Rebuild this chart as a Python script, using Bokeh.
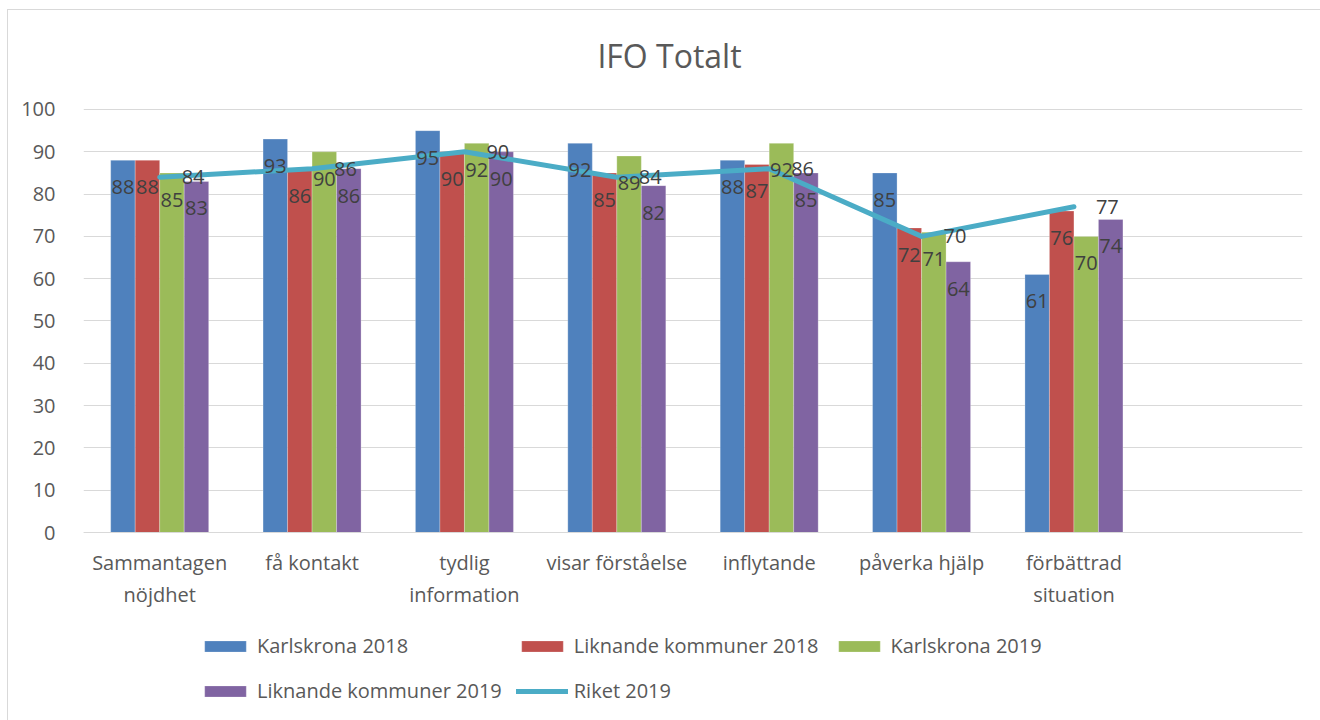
from bokeh.plotting import figure
from bokeh.models import FactorRange, Range1d, Legend, LegendItem, ColumnDataSource, Label, FixedTicker
from bokeh.transform import dodge
from bokeh.core.properties import value
from bokeh.embed import file_html
from bokeh.resources import INLINE

categories = ["Sammantagen\nnöjdhet", "få kontakt", "tydlig\ninformation", "visar förståelse",
              "inflytande", "påverka hjälp", "förbättrad\nsituation"]
karlskrona_2018 = [88, 93, 95, 92, 88, 85, 61]
liknande_2018 = [88, 86, 90, 85, 87, 72, 76]
karlskrona_2019 = [85, 90, 92, 89, 92, 71, 70]
liknande_2019 = [83, 86, 90, 82, 85, 64, 74]
riket_2019 = [84, 86, 90, 84, 86, 70, 77]
y_ticks = [0, 10, 20, 30, 40, 50, 60, 70, 80, 90, 100]
chart_title = "IFO Totalt"

series_names = ["Karlskrona 2018", "Liknande kommuner 2018", "Karlskrona 2019", "Liknande kommuner 2019"]
series_vals = [karlskrona_2018, liknande_2018, karlskrona_2019, liknande_2019]
colors = ["#4F81BD", "#C0504D", "#9BBB59", "#8064A2"]
riket_color = "#4BACC6"
FONT = "Open Sans"

factors = categories + [" "]

data = dict(cat=categories, riket=riket_2019, riket_s=[str(v) for v in riket_2019])
for i, vals in enumerate(series_vals):
    data[f"s{i}"] = vals
    data[f"s{i}_t"] = [str(v) for v in vals]
src = ColumnDataSource(data)

# the frame covers the whole chart area; the value axis spans 0..100 (gridlines/ticks only there)
p = figure(x_range=FactorRange(*factors), y_range=Range1d(-43.97, 122.93),
           width=1322, height=714, output_backend="svg", toolbar_location=None,
           min_border_left=75, min_border_right=28, min_border_top=2, min_border_bottom=6)
p.x_range.range_padding = 0
p.styles = {"border": "1px solid #d9d9d9", "margin-left": "7px", "margin-top": "9px"}

bw = 0.1608
offsets = [-1.5 * bw, -0.5 * bw, 0.5 * bw, 1.5 * bw]
bar_renderers = []
for i in range(4):
    r = p.vbar(x=dodge("cat", offsets[i], range=p.x_range), top=f"s{i}", bottom=0, width=bw,
               source=src, fill_color=colors[i], line_color="white", line_alpha=0.5, line_width=0.5)
    bar_renderers.append(r)

line_r = p.line(x="cat", y="riket", source=src, line_color=riket_color, line_width=5,
                line_cap="round", line_join="round")

for i in range(4):
    p.text(x=dodge("cat", offsets[i], range=p.x_range), y=f"s{i}", text=f"s{i}_t", source=src,
           text_font=value(FONT), text_font_size="20px", text_color="#404040",
           text_align="center", text_baseline="middle", y_offset=27)

p.text(x="cat", y="riket", text="riket_s", source=src, text_font=value(FONT), text_font_size="20px",
       text_color="#404040", text_align="left", text_baseline="middle", x_offset=22)

p.add_layout(Label(x=586, y=663, x_units="screen", y_units="screen", text=chart_title,
                   text_font=FONT, text_font_size="32px", text_color="#595959",
                   text_align="center", text_baseline="middle"))

ticker = FixedTicker(ticks=y_ticks)
p.xgrid.grid_line_color = None
p.ygrid.ticker = ticker
p.ygrid.grid_line_color = "#d9d9d9"
p.ygrid.grid_line_width = 1
p.outline_line_color = None

p.yaxis.ticker = ticker
p.yaxis.axis_line_color = None
p.yaxis.major_tick_line_color = None
p.yaxis.minor_tick_line_color = None
p.yaxis.major_label_standoff = 22
p.yaxis.major_label_text_font = FONT
p.yaxis.major_label_text_font_size = "20px"
p.yaxis.major_label_text_color = "#595959"

p.xaxis.fixed_location = 0
p.xaxis.axis_line_color = "#d9d9d9"
p.xaxis.major_tick_line_color = None
p.xaxis.minor_tick_line_color = None
p.xaxis.major_label_standoff = 10
p.xaxis.major_label_text_font = FONT
p.xaxis.major_label_text_font_size = "20px"
p.xaxis.major_label_text_color = "#595959"

items = [LegendItem(label=series_names[i], renderers=[bar_renderers[i]]) for i in range(4)]
items.append(LegendItem(label="Riket 2019", renderers=[line_r]))
legend = Legend(items=items, orientation="horizontal", ncols=3, location=(116, 12),
                glyph_width=52, glyph_height=14, label_standoff=6, spacing=14, label_height=31,
                label_text_font=FONT, label_text_font_size="20px", label_text_color="#595959",
                border_line_color=None, background_fill_alpha=0, padding=0, margin=0)
p.add_layout(legend, "center")

open("out.html", "w").write(file_html(p, INLINE))
